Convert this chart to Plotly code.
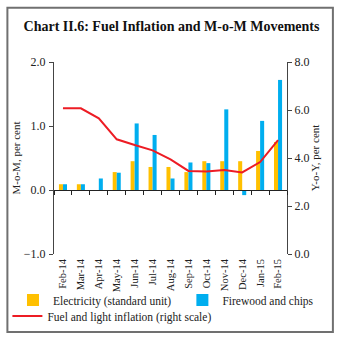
import plotly.graph_objects as go

# Monthly categories and series
months = ["Feb-14", "Mar-14", "Apr-14", "May-14", "Jun-14", "Jul-14", "Aug-14",
          "Sep-14", "Oct-14", "Nov-14", "Dec-14", "Jan-15", "Feb-15"]
electricity = [0.09, 0.09, 0.0, 0.28, 0.45, 0.36, 0.36, 0.28, 0.45, 0.45, 0.45, 0.61, 0.75]
firewood = [0.09, 0.09, 0.18, 0.27, 1.04, 0.86, 0.18, 0.43, 0.42, 1.26, -0.08, 1.08, 1.72]
fuel_light_yoy = [6.07, 6.07, 5.65, 4.78, 4.54, 4.32, 3.94, 3.46, 3.44, 3.50, 3.40, 3.83, 4.74]

left_ticks = [-1.0, 0.0, 1.0, 2.0]
right_ticks = [0.0, 2.0, 4.0, 6.0, 8.0]

FONT = "Liberation Serif"
INK = "#222222"
LEGEND_FONT = dict(family=FONT, size=11.5, color=INK)

fig = go.Figure()
fig.add_trace(go.Bar(x=months, y=electricity, name="Electricity (standard unit)",
                     marker=dict(color="#FFC000", line=dict(width=0)),
                     legend="legend", showlegend=True))
fig.add_trace(go.Bar(x=months, y=firewood, name="Firewood and chips",
                     marker=dict(color="#00AEEF", line=dict(width=0)),
                     legend="legend2", showlegend=True))
fig.add_trace(go.Scatter(x=months, y=fuel_light_yoy, mode="lines",
                         name="Fuel and light inflation (right scale)",
                         line=dict(color="#ED1C24", width=2),
                         xaxis="x2", yaxis="y2", legend="legend3", showlegend=True))

legend_common = dict(orientation="h", xanchor="left", yanchor="middle",
                     font=LEGEND_FONT, bgcolor="rgba(0,0,0,0)", borderwidth=0)

fig.update_layout(
    width=343, height=345,
    showlegend=True,
    margin=dict(l=54, r=56, t=62, b=91, autoexpand=False),
    paper_bgcolor="white", plot_bgcolor="white",
    font=dict(family=FONT, size=11, color=INK),
    barmode="group", bargap=0.55, bargroupgap=0,
    title=dict(text="<b>Chart II.6: Fuel Inflation and M-o-M Movements</b>",
               x=0.5, xanchor="center", xref="container",
               y=1 - 26 / 345, yanchor="middle", yref="container",
               font=dict(family=FONT, size=14, color="#111111")),
    xaxis=dict(type="category", showline=False, ticks="", showgrid=False,
               automargin=False, tickangle=-90, tickfont=dict(size=10.5),
               ticklabelstandoff=2),
    xaxis2=dict(type="category", overlaying="x", matches="x", anchor="free",
                position=1 / 3, showline=True, linecolor="#222222", linewidth=1,
                ticks="outside", ticklen=4, tickcolor="#222222", tickson="boundaries",
                showticklabels=False, showgrid=False, side="bottom", automargin=False),
    yaxis=dict(range=[-1, 2], tickvals=left_ticks, tickformat=".1f",
               showline=True, linecolor="#444444", linewidth=1,
               ticks="outside", ticklen=4, tickcolor="#444444",
               tickfont=dict(size=12), ticklabelstandoff=1,
               showgrid=False, zeroline=False, automargin=False,
               title=dict(text="M-o-M, per cent", standoff=0,
                          font=dict(family=FONT, size=11))),
    yaxis2=dict(range=[0, 8], tickvals=right_ticks, tickformat=".1f",
                overlaying="y", side="right", anchor="x",
                showline=True, linecolor="#444444", linewidth=1,
                ticks="outside", ticklen=4, tickcolor="#444444",
                tickfont=dict(size=12),
                showgrid=False, zeroline=False, automargin=False,
                title=dict(text="Y-o-Y, per cent", standoff=0,
                           font=dict(family=FONT, size=11))),
    legend=dict(x=-0.176, y=-0.24, **legend_common),
    legend2=dict(x=0.551, y=-0.24, **legend_common),
    legend3=dict(x=-0.20, y=-0.323, **legend_common),
    shapes=[dict(type="rect", xref="paper", yref="paper",
                 x0=-0.2, x1=1.197, y0=-0.406, y1=1.282,
                 line=dict(color="#707070", width=2), fillcolor="rgba(0,0,0,0)",
                 layer="below")],
)

fig.write_html("out.html")
